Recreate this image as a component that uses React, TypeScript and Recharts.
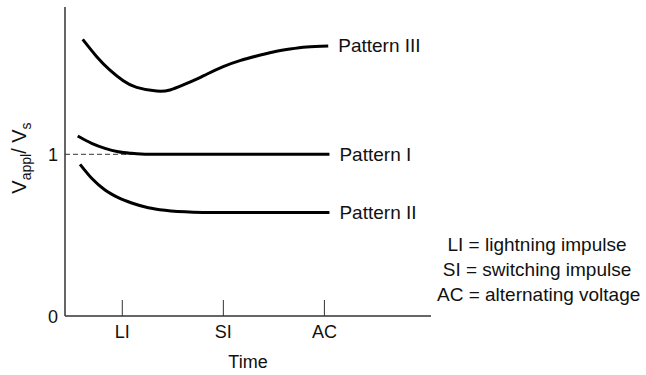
import React from "react";
import { LineChart, Line, XAxis, YAxis, ReferenceLine } from "recharts";

// Category positions on the time axis
const timeTicks = [1, 2, 3];
const timeTickLabels = ["LI", "SI", "AC"];
const valueTicks = [0, 1];

// Pattern III
const timeIII = [0.608, 0.747, 0.878, 1.01, 1.142, 1.34, 1.472, 1.603, 1.752, 1.835, 1.999, 2.164, 2.329, 2.494, 2.659, 2.824, 3.038];
const valueIII = [1.711, 1.604, 1.521, 1.455, 1.414, 1.391, 1.398, 1.429, 1.47, 1.495, 1.542, 1.579, 1.608, 1.633, 1.651, 1.664, 1.67];

// Pattern I
const timeI = [0.559, 0.697, 0.829, 0.96, 1.093, 1.257, 1.6, 2.0, 2.5, 3.05];
const valueI = [1.113, 1.068, 1.037, 1.016, 1.006, 1.0, 1.0, 1.0, 1.0, 1.0];

// Pattern II
const timeII = [0.582, 0.697, 0.829, 0.96, 1.093, 1.257, 1.422, 1.702, 1.897, 2.4, 3.05];
const valueII = [0.938, 0.852, 0.779, 0.732, 0.699, 0.67, 0.654, 0.642, 0.64, 0.64, 0.64];

const legendNotes = ["LI = lightning impulse", "SI = switching impulse", "AC = alternating voltage"];

const build = (xs: number[], ys: number[]) => xs.map((x, i) => ({ x, y: ys[i] }));
const dataIII = build(timeIII, valueIII);
const dataI = build(timeI, valueI);
const dataII = build(timeII, valueII);

const FONT = "'Liberation Sans', Arial, Helvetica, sans-serif";
const INK = "#111";

const XTick = (props: any) => {
  const { x, y, payload } = props;
  const idx = timeTicks.indexOf(payload.value);
  return (
    <g>
      <line x1={x} x2={x} y1={y} y2={y - 16} stroke="#333" strokeWidth={1} />
      <text x={x} y={y + 22} textAnchor="middle" fontFamily={FONT} fontSize={18} fill={INK}>
        {idx >= 0 ? timeTickLabels[idx] : ""}
      </text>
    </g>
  );
};

const YTick = (props: any) => {
  const { x, y, payload } = props;
  return (
    <text x={x} y={y} dy={6.5} textAnchor="end" fontFamily={FONT} fontSize={18} fill={INK}>
      {payload.value}
    </text>
  );
};

const endLabel = (name: string, count: number) => (props: any) => {
  const { x, y, index } = props;
  if (index !== count - 1) return <g />;
  return (
    <text x={x + 10} y={y} dy={6.5} fontFamily={FONT} fontSize={19} fill={INK}>
      {name}
    </text>
  );
};

const TimeLabel = (props: any) => {
  const vb = props.viewBox || {};
  return (
    <text x={vb.x + vb.width / 2} y={vb.y + 52} textAnchor="middle" fontFamily={FONT} fontSize={18} fill={INK}>
      Time
    </text>
  );
};

const RatioLabel = () => (
  <text
    x={0}
    y={0}
    transform="translate(26,158) rotate(-90)"
    textAnchor="middle"
    fontFamily={FONT}
    fontSize={20}
    fill={INK}
  >
    <tspan>V</tspan>
    <tspan dy={5} fontSize={14}>appl</tspan>
    <tspan dy={-5}>/ V</tspan>
    <tspan dy={5} fontSize={14}>s</tspan>
  </text>
);

export default function App() {
  return (
    <div style={{ position: "absolute", left: 0, top: 0, width: 646, height: 375, background: "#fff" }}>
      <LineChart width={646} height={375} margin={{ top: 7, right: 215, left: 0, bottom: 0 }}>
        <XAxis
          type="number"
          dataKey="x"
          domain={[0.433, 4.055]}
          ticks={timeTicks}
          allowDataOverflow
          height={59}
          tickSize={0}
          tickMargin={0}
          tickLine={false}
          tick={<XTick />}
          axisLine={{ stroke: "#333", strokeWidth: 1.5 }}
          label={<TimeLabel />}
        />
        <YAxis
          type="number"
          domain={[0, 1.911]}
          ticks={valueTicks}
          allowDataOverflow
          width={65}
          tickSize={0}
          tickMargin={7}
          tickLine={false}
          tick={<YTick />}
          axisLine={{ stroke: "#333", strokeWidth: 1.5 }}
          label={<RatioLabel />}
        />
        <ReferenceLine
          segment={[{ x: 0.433, y: 1 }, { x: 1.3, y: 1 }]}
          stroke="#333"
          strokeWidth={1}
          strokeDasharray="5 3"
        />
        <Line
          data={dataIII}
          dataKey="y"
          type="natural"
          stroke="#000"
          strokeWidth={3}
          dot={false}
          isAnimationActive={false}
          label={endLabel("Pattern III", dataIII.length)}
        />
        <Line
          data={dataI}
          dataKey="y"
          type="monotone"
          stroke="#000"
          strokeWidth={3}
          dot={false}
          isAnimationActive={false}
          label={endLabel("Pattern I", dataI.length)}
        />
        <Line
          data={dataII}
          dataKey="y"
          type="monotone"
          stroke="#000"
          strokeWidth={3}
          dot={false}
          isAnimationActive={false}
          label={endLabel("Pattern II", dataII.length)}
        />
      </LineChart>
      <div
        style={{
          position: "absolute",
          left: 437,
          top: 232,
          width: 200,
          textAlign: "center",
          fontFamily: FONT,
          fontSize: 19,
          lineHeight: "25px",
          color: INK,
          whiteSpace: "nowrap",
        }}
      >
        {legendNotes.map((t) => (
          <div key={t}>{t}</div>
        ))}
      </div>
    </div>
  );
}
